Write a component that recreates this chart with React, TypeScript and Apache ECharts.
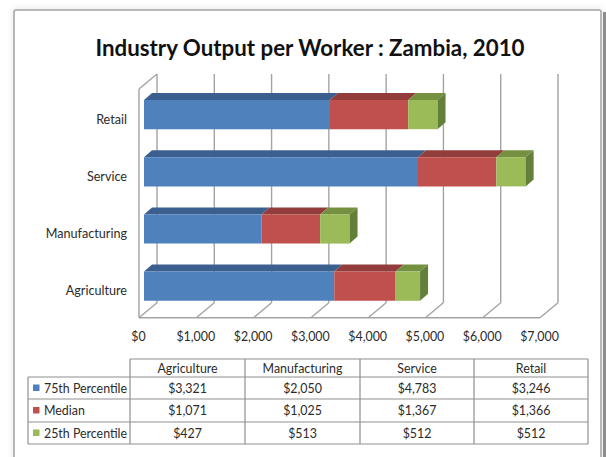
import React, { useEffect, useRef } from "react";
import * as echarts from "echarts";

const titleText = "Industry Output per Worker : Zambia, 2010";
const categories = ["Agriculture", "Manufacturing", "Service", "Retail"];
const seriesNames = ["75th Percentile", "Median", "25th Percentile"];
const p75 = [3321, 2050, 4783, 3246];
const median = [1071, 1025, 1367, 1366];
const p25 = [427, 513, 512, 512];
const xTicks = [0, 1000, 2000, 3000, 4000, 5000, 6000, 7000];

const FONT = "Lato, 'Open Sans', sans-serif";
const FRONT_COLORS = ["#4f81bd", "#c0504d", "#9bbb59"];
const TOP_COLORS = ["#3b6090", "#923d3b", "#75913f"];
const SIDE_COLOR = "#63803a";
const GRID_COLOR = "#a3a3a3";
const TEXT_COLOR = "#2b2b2b";
const FRONT = [-5, 3];
const BACK = [13, -12];
const BAR_D = [8, -7];

const fmt = (v: number) => "$" + v.toLocaleString("en-US");

export default function App() {
  const ref = useRef<HTMLDivElement>(null);
  useEffect(() => {
    if (!ref.current) return;
    const chart = echarts.init(ref.current, undefined, { renderer: "svg" });
    const values = [p75, median, p25];

    const barSeries = values.map((vals, s) => {
      const data = vals.map((v, i) => {
        let start = 0;
        for (let k = 0; k < s; k++) start += values[k][i];
        return [start, i, v];
      });
      return {
        type: "custom",
        name: seriesNames[s],
        z: 3 + s,
        encode: { x: 0, y: 1 },
        data,
        renderItem: (params: any, api: any) => {
          const start = api.value(0);
          const cat = api.value(1);
          const val = api.value(2);
          const p0 = api.coord([start, cat]);
          const p1 = api.coord([start + val, cat]);
          const band = api.size([0, 1])[1];
          const h = band * 0.51;
          const x0 = p0[0];
          const x1 = p1[0];
          const y0 = p0[1] - h / 2;
          const y1 = p0[1] + h / 2;
          const [dx, dy] = BAR_D;
          const children: any[] = [
            {
              type: "polygon",
              shape: { points: [[x0, y0], [x1, y0], [x1 + dx, y0 + dy], [x0 + dx, y0 + dy]] },
              style: { fill: TOP_COLORS[s] },
            },
            {
              type: "rect",
              shape: { x: x0, y: y0, width: x1 - x0, height: h },
              style: { fill: FRONT_COLORS[s] },
            },
          ];
          if (s === values.length - 1) {
            children.push({
              type: "polygon",
              shape: { points: [[x1, y0], [x1 + dx, y0 + dy], [x1 + dx, y1 + dy], [x1, y1]] },
              style: { fill: SIDE_COLOR },
            });
          }
          return { type: "group", children };
        },
      };
    });

    const gridSeries = {
      type: "custom",
      name: "grid3d",
      z: 1,
      silent: true,
      encode: { x: 0, y: 1 },
      data: xTicks.map((v) => [v, 0]),
      renderItem: (params: any, api: any) => {
        const cs = params.coordSys;
        const top = cs.y;
        const bottom = cs.y + cs.height;
        const v = api.value(0);
        const x = api.coord([v, 0])[0];
        const ls = { stroke: GRID_COLOR, lineWidth: 1.4 };
        const children: any[] = [
          { type: "line", shape: { x1: x + BACK[0], y1: top + BACK[1], x2: x + BACK[0], y2: bottom + BACK[1] }, style: ls },
          { type: "line", shape: { x1: x + FRONT[0], y1: bottom + FRONT[1], x2: x + BACK[0], y2: bottom + BACK[1] }, style: ls },
        ];
        if (v === xTicks[0]) {
          const xEnd = api.coord([xTicks[xTicks.length - 1], 0])[0];
          children.push(
            { type: "line", shape: { x1: x + FRONT[0], y1: top + FRONT[1], x2: x + FRONT[0], y2: bottom + FRONT[1] }, style: ls },
            { type: "line", shape: { x1: x + FRONT[0], y1: top + FRONT[1], x2: x + BACK[0], y2: top + BACK[1] }, style: ls },
            { type: "line", shape: { x1: x + FRONT[0], y1: bottom + FRONT[1], x2: xEnd + FRONT[0], y2: bottom + FRONT[1] }, style: ls }
          );
        }
        return { type: "group", children };
      },
    };

    // table
    const colX = [28, 130, 245, 360, 474, 588];
    const rowY = [359, 377, 399, 422, 444];
    const tStroke = { stroke: "#8f8f8f", lineWidth: 1.2 };
    const tFont = `12.4px ${FONT}`;
    const table: any[] = [];
    table.push({ type: "line", shape: { x1: colX[1], y1: rowY[0], x2: colX[5], y2: rowY[0] }, style: tStroke });
    for (let r = 1; r < rowY.length; r++) {
      table.push({ type: "line", shape: { x1: colX[0], y1: rowY[r], x2: colX[5], y2: rowY[r] }, style: tStroke });
    }
    table.push({ type: "line", shape: { x1: colX[0], y1: rowY[1], x2: colX[0], y2: rowY[4] }, style: tStroke });
    for (let c = 1; c < colX.length; c++) {
      table.push({ type: "line", shape: { x1: colX[c], y1: rowY[0], x2: colX[c], y2: rowY[4] }, style: tStroke });
    }
    categories.forEach((cat, c) => {
      table.push({
        type: "text",
        x: (colX[c + 1] + colX[c + 2]) / 2,
        y: (rowY[0] + rowY[1]) / 2,
        style: { text: cat, fill: TEXT_COLOR, font: tFont, textAlign: "center", textVerticalAlign: "middle" },
      });
    });
    values.forEach((vals, s) => {
      const cy = (rowY[s + 1] + rowY[s + 2]) / 2;
      table.push({ type: "rect", shape: { x: 33, y: cy - 3.5, width: 6.5, height: 6.5 }, style: { fill: FRONT_COLORS[s] } });
      table.push({
        type: "text",
        x: 44,
        y: cy,
        style: { text: seriesNames[s], fill: TEXT_COLOR, font: tFont, textAlign: "left", textVerticalAlign: "middle" },
      });
      vals.forEach((v, c) => {
        table.push({
          type: "text",
          x: (colX[c + 1] + colX[c + 2]) / 2,
          y: cy,
          style: { text: fmt(v), fill: TEXT_COLOR, font: tFont, textAlign: "center", textVerticalAlign: "middle" },
        });
      });
    });

    chart.setOption({
      animation: false,
      backgroundColor: "#ffffff",
      title: {
        text: titleText,
        left: 305,
        top: 31,
        textAlign: "center",
        textStyle: { fontFamily: FONT, fontWeight: "bold", fontSize: 22.3, color: "#111" },
      },
      grid: { left: 144, top: 86, width: 401, height: 228.8 },
      xAxis: {
        type: "value",
        min: 0,
        max: 7000,
        interval: 1000,
        axisLine: { show: false },
        axisTick: { show: false },
        splitLine: { show: false },
        axisLabel: {
          formatter: (v: number) => fmt(v),
          margin: 16,
          padding: [0, 11, 0, 0],
          fontFamily: FONT,
          fontSize: 12.4,
          color: TEXT_COLOR,
        },
      },
      yAxis: {
        type: "category",
        data: categories,
        axisLine: { show: false },
        axisTick: { show: false },
        splitLine: { show: false },
        axisLabel: {
          margin: 17,
          verticalAlign: "top",
          lineHeight: 9,
          fontFamily: FONT,
          fontSize: 12.6,
          color: TEXT_COLOR,
        },
      },
      graphic: [
        {
          type: "rect",
          z: -10,
          shape: { x: 14, y: 10, width: 587, height: 470, r: 2 },
          style: { fill: "#ffffff", stroke: "#a3a3a3", lineWidth: 1.5, shadowBlur: 6, shadowColor: "rgba(0,0,0,0.12)" },
        },
        { type: "rect", z: -9, shape: { x: 603, y: 12, width: 3, height: 450 }, style: { fill: "#8c8c8c" } },
        ...table,
      ],
      series: [gridSeries, ...barSeries],
    });
    return () => chart.dispose();
  }, []);
  return <div ref={ref} style={{ position: "absolute", left: 0, top: 0, width: 606, height: 457 }} />;
}
